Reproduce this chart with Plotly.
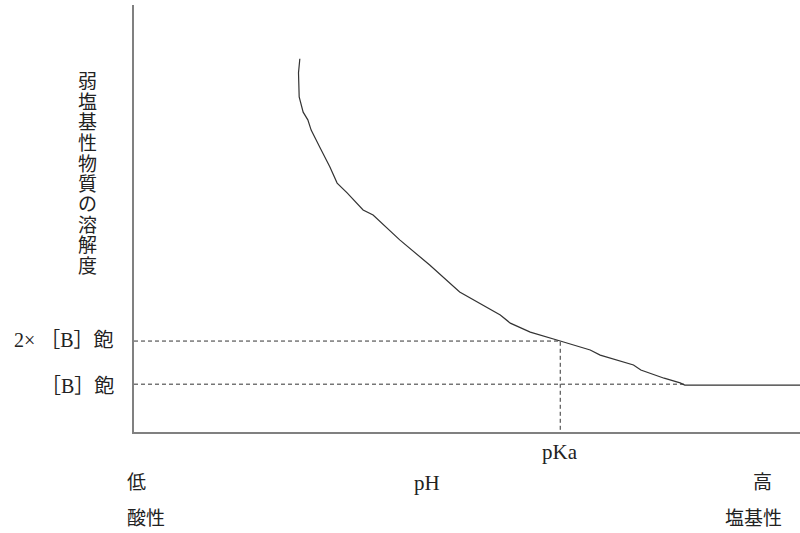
import plotly.graph_objects as go

# pH axis (0 = low/acidic, 100 = high/basic), solubility axis (0..100)
ph_curve = [24.9, 24.7, 24.8, 25.4, 26.1, 26.6, 27.9, 29.4, 30.5, 32.0, 34.4, 35.9,
            39.9, 44.4, 48.9, 55.0, 56.5, 59.5, 64.0, 68.5, 70.0, 72.5, 75.0, 76.1,
            79.6, 82.0, 82.7, 100.0]
sol_curve = [87.4, 84.1, 78.5, 74.9, 73.1, 70.7, 66.7, 62.1, 58.3, 56.0, 52.0, 50.8,
             45.0, 39.1, 32.8, 27.4, 25.5, 23.4, 21.3, 19.2, 18.0, 16.9, 15.7, 14.5,
             12.6, 11.5, 11.0, 11.0]
pka = 64.0
b_sat = 11.2
two_b_sat = 21.3
ph_sat_end = 82.7

ylabel = "弱塩基性物質の溶解度"
ytick_labels = ["2× ［B］飽", "［B］飽"]
xlabels = {"pKa": "pKa", "pH": "pH", "low": "低", "acid": "酸性", "high": "高", "base": "塩基性"}

FONT = "Liberation Serif, Noto Sans CJK JP, serif"

fig = go.Figure()
fig.add_trace(go.Scatter(x=ph_curve, y=sol_curve, mode="lines",
                         line=dict(color="#333333", width=1.2), hoverinfo="skip"))
# dashed guide lines
fig.add_trace(go.Scatter(x=[0, pka, pka], y=[two_b_sat, two_b_sat, 0], mode="lines",
                         line=dict(color="#333333", width=1, dash="4px,3px"), hoverinfo="skip"))
fig.add_trace(go.Scatter(x=[0, ph_sat_end], y=[b_sat, b_sat], mode="lines",
                         line=dict(color="#333333", width=1, dash="4px,3px"), hoverinfo="skip"))

W, H = 800, 533
L, R, T, B = 134, 0, 5, 101
pw, ph = W - L - R, H - T - B


def px2paper(x, y):
    return (x - L) / pw, (H - B - y) / ph


ann = []
def add(text, x, y, size=19, xanchor="center"):
    px_, py_ = px2paper(x, y)
    ann.append(dict(text=text, x=px_, y=py_, xref="paper", yref="paper", showarrow=False,
                    xanchor=xanchor, yanchor="middle", font=dict(family=FONT, size=size, color="#222")))

for i, ch in enumerate(ylabel):
    add(ch, 87, 82 + i * 20.5, size=19)

add(ytick_labels[0], 116, 340, size=20, xanchor="right")
add(ytick_labels[1], 116, 386, size=20, xanchor="right")
add(xlabels["pKa"], 560, 452, size=21)
add(xlabels["pH"], 427, 483, size=21)
add(xlabels["low"], 136, 483)
add(xlabels["acid"], 146, 518)
add(xlabels["high"], 762, 483)
add(xlabels["base"], 753, 518)

fig.update_layout(
    width=W, height=H, margin=dict(l=L, r=R, t=T, b=B),
    plot_bgcolor="white", paper_bgcolor="white", showlegend=False,
    xaxis=dict(range=[0, 100], showline=True, linecolor="#808080", linewidth=2,
               showgrid=False, zeroline=False, showticklabels=False, ticks=""),
    yaxis=dict(range=[0, 100], showline=True, linecolor="#808080", linewidth=2,
               showgrid=False, zeroline=False, showticklabels=False, ticks=""),
    annotations=ann,
)
fig.write_html("out.html", config={"displayModeBar": False},
               post_script="document.body.style.margin='0';document.body.style.overflow='hidden';")
